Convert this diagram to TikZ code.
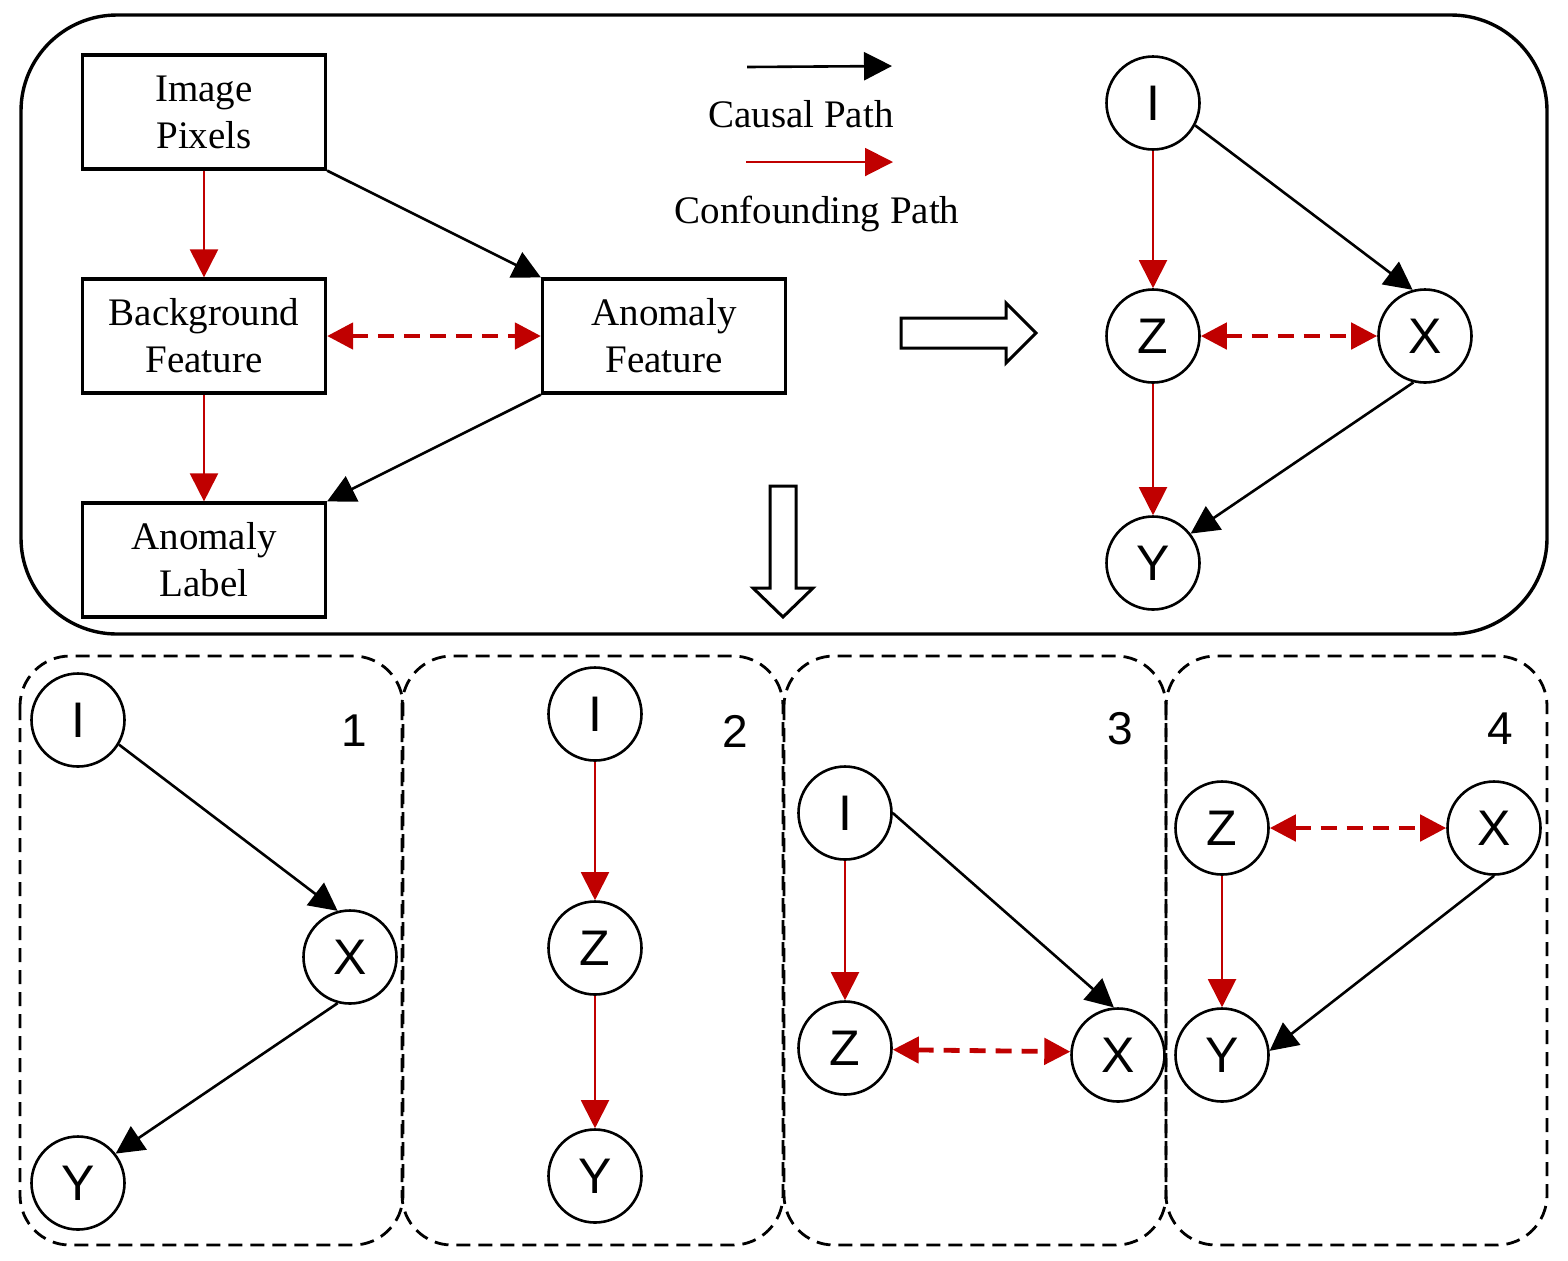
\documentclass[tikz,border=0pt]{standalone}
\usepackage{fontspec}
\setmainfont{Liberation Serif}
\newfontfamily\arialfont{Liberation Sans}
\usetikzlibrary{arrows.meta}
\definecolor{confred}{RGB}{192,0,0}

\begin{document}
\begin{tikzpicture}[x=0.5pt,y=0.5pt,yscale=-1,xscale=1,
  box/.style={draw,line width=1.6pt,minimum width=121.5pt,minimum height=57pt,align=center,inner sep=0pt,font=\fontsize{19.5}{23.5}\selectfont},
  var/.style={draw,circle,line width=1.3pt,minimum size=46.5pt,inner sep=0pt,font=\arialfont\fontsize{25}{25}\selectfont},
  num/.style={inner sep=0pt,font=\arialfont\fontsize{23}{23}\selectfont},
  legend/.style={inner sep=0pt,anchor=base,font=\fontsize{19.5}{23.5}\selectfont},
  causal/.style={line width=1.3pt,-{Triangle[length=14pt,width=14pt]}},
  confound/.style={confred,line width=1pt,-{Triangle[length=14pt,width=14pt]}},
  bidir/.style={confred,line width=2.4pt,dash pattern=on 8pt off 5pt,{Triangle[length=13pt,width=13pt]}-{Triangle[length=13pt,width=13pt]}},
  panel/.style={line width=1.4pt,dash pattern=on 7pt off 4pt,rounded corners=25pt},
  blockarrow/.style={line width=1.5pt,fill=white,line join=miter}
]
\useasboundingbox (0,0) rectangle (1568,1260);

%Rounded Rect [top frame]
\draw [line width=1.7pt,rounded corners=48pt] (21,15) rectangle (1547,634) ;

% Text Node
\node[box] (pix) at (204,112) {Image\\Pixels};
% Text Node
\node[box] (bgf) at (204,336) {Background\\Feature};
% Text Node
\node[box] (lbl) at (204,560) {Anomaly\\Label};
% Text Node
\node[box] (anf) at (664,336) {Anomaly\\Feature};

\draw[confound] (pix) -- (bgf);
\draw[confound] (bgf) -- (lbl);
\draw[bidir] (bgf) -- (anf);
\draw[causal] (pix.south east) -- (anf.north west);
\draw[causal] (anf.south west) -- (lbl.north east);

%Legend
\coordinate (ca1) at (747,67);
\coordinate (ca2) at (892,66);
\draw[causal] (ca1) -- (ca2);
\node[legend] (catext) at (801,127) {Causal Path};
\coordinate (co1) at (746,162);
\coordinate (co2) at (893,162);
\draw[confound] (co1) -- (co2);
\node[legend] (cotext) at (817,223) {Confounding Path};

%Right Arrow
\draw[blockarrow] (901,318) -- (1006,318) -- (1006,303) -- (1036,333) -- (1006,363) -- (1006,348) -- (901,348) -- cycle ;
%Down Arrow
\draw[blockarrow] (770,486) -- (796,486) -- (796,588) -- (813,588) -- (783,617) -- (753,588) -- (770,588) -- cycle ;

%Causal graph
\node[var] (i0) at (1153,103) {I};
\node[var] (z0) at (1153,336) {Z};
\node[var] (x0) at (1425,336) {X};
\node[var] (y0) at (1153,563) {Y};
\draw[confound] (i0) -- (z0);
\draw[confound] (z0) -- (y0);
\draw[bidir] (z0) -- (x0);
\draw[causal] (i0.-28) -- (x0.105);
\draw[causal] (x0.256) -- (y0.38);

%Dashed panels
\draw[panel] (20,656) rectangle (403,1245) ;
\draw[panel] (402,656) rectangle (783,1245) ;
\draw[panel] (784,656) rectangle (1166,1245) ;
\draw[panel] (1166,656) rectangle (1547,1245) ;

%Panel 1
\node[var] (i1) at (78,720) {I};
\node[var] (x1) at (350,957) {X};
\node[var] (y1) at (78,1183) {Y};
\node[num] (n1) at (354,731) {1};
\draw[causal] (i1.-31) -- (x1.105);
\draw[causal] (x1.255) -- (y1.38);

%Panel 2
\node[var] (i2) at (595,714) {I};
\node[var] (z2) at (595,948) {Z};
\node[var] (y2) at (595,1176) {Y};
\node[num] (n2) at (735,731) {2};
\draw[confound] (i2) -- (z2);
\draw[confound] (z2) -- (y2);

%Panel 3
\node[var] (i3) at (845,813) {I};
\node[var] (z3) at (845,1048) {Z};
\node[var] (x3) at (1118,1055) {X};
\node[num] (n3) at (1120,729) {3};
\draw[confound] (i3) -- (z3);
\draw[causal] (i3.east) -- (x3.95);
\draw[bidir] (z3.-2) -- (x3.176);

%Panel 4
\node[var] (z4) at (1222,828) {Z};
\node[var] (x4) at (1494,828) {X};
\node[var] (y4) at (1222,1055) {Y};
\node[num] (n4) at (1500,729) {4};
\draw[bidir] (z4) -- (x4);
\draw[confound] (z4) -- (y4);
\draw[causal] (x4.south) -- (y4.5);

\end{tikzpicture}
\end{document}
